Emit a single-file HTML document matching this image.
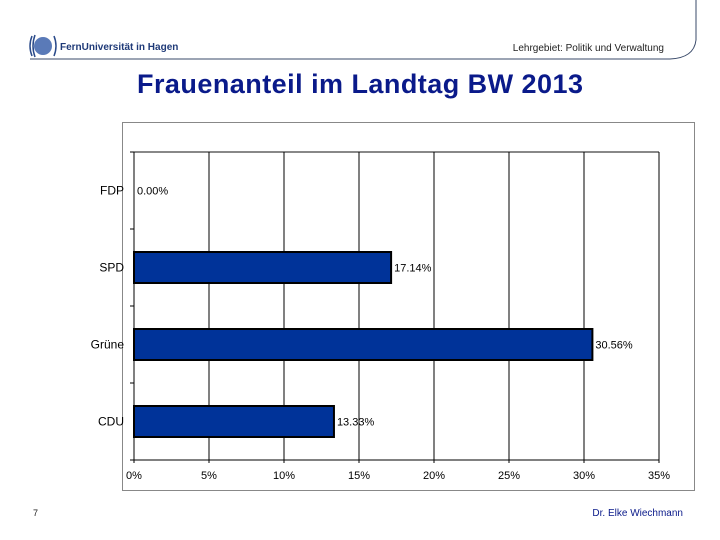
<!DOCTYPE html>
<html><head><meta charset="utf-8"><style>
body{margin:0;width:720px;height:540px;background:#fff;font-family:"Liberation Sans",sans-serif;position:relative;overflow:hidden}
.a{position:absolute}
</style></head><body>
<svg class="a" style="left:0;top:0" width="720" height="540">
<g>
<circle cx="43" cy="46" r="9" fill="#5a7ab8"/>
<path d="M32,36 Q28,46 32,56 M35,35 Q31,46 35,57 M54,36 Q58,46 54,56" stroke="#2a4a8a" fill="none" stroke-width="1.5"/>
<text x="60" y="50" font-size="10" font-weight="bold" fill="#1f3a78">FernUniversität in Hagen</text>
<text x="664" y="51" font-size="10" text-anchor="end" fill="#222">Lehrgebiet: Politik und Verwaltung</text>
<path d="M30,59 L670,59 Q694,58 696,40 L696,0" stroke="#3a4a6a" fill="none" stroke-width="1"/>
</g>
<text x="360" y="93" font-size="27" font-weight="bold" text-anchor="middle" fill="#0a1a8a" textLength="446">Frauenanteil im Landtag BW 2013</text>
<rect x="122.5" y="122.5" width="572" height="368" fill="none" stroke="#888"/>
<g id="chart"></g>
<text x="33" y="516" font-size="9" fill="#222">7</text>
<text x="683" y="516" font-size="10" text-anchor="end" fill="#0a1a8a">Dr. Elke Wiechmann</text>
</svg>
<script>
const categories=["FDP","SPD","Grüne","CDU"];
const values=[0,17.14,30.56,13.33];
const valueLabels=["0.00%","17.14%","30.56%","13.33%"];
const ticks=[0,5,10,15,20,25,30,35];
const tickLabels=["0%","5%","10%","15%","20%","25%","30%","35%"];
const NS="http://www.w3.org/2000/svg";
const g=document.getElementById('chart');
const x0=134,x1=659,y0=152,y1=460;
const xs=v=>x0+(v/35)*(x1-x0);
const band=(y1-y0)/categories.length;
function el(t,a,txt){const e=document.createElementNS(NS,t);for(const k in a)e.setAttribute(k,a[k]);if(txt!=null)e.textContent=txt;g.appendChild(e);return e;}
el('line',{x1:x0,y1:y0,x2:x1,y2:y0,stroke:'#888','stroke-width':2});
ticks.forEach((t,i)=>{
 const l=el('line',{x1:xs(t),y1:y0,x2:xs(t),y2:y1+3,stroke:'#000','stroke-width':1});
 
 
 const tx=el('text',{x:xs(t),y:479,'font-size':11,'text-anchor':'middle',fill:'#000'},tickLabels[i]);
 
 
});
for(let i=0;i<=categories.length;i++)el('line',{x1:x0-4,y1:y0+i*band,x2:x0,y2:y0+i*band,stroke:'#000'});
el('line',{x1:x0,y1:y0,x2:x0,y2:y1,stroke:'#000'});
el('line',{x1:x0,y1:y1,x2:x1,y2:y1,stroke:'#000'});
categories.forEach((c,i)=>{
 const cy=y0+band*(i+0.5);
 const lab=el('text',{x:124,y:cy+4,'font-size':12,'text-anchor':'end',fill:'#000'},c);
 
 
 if(values[i]>0){
  const r=el('rect',{x:x0,y:cy-15.5,width:xs(values[i])-x0,height:31,fill:'#003399',stroke:'#000','stroke-width':2});
  
  
 }
 const vl=el('text',{x:xs(values[i])+3,y:cy+4,'font-size':11,fill:'#000'},valueLabels[i]);
 
 
});
</script>
</body></html>
